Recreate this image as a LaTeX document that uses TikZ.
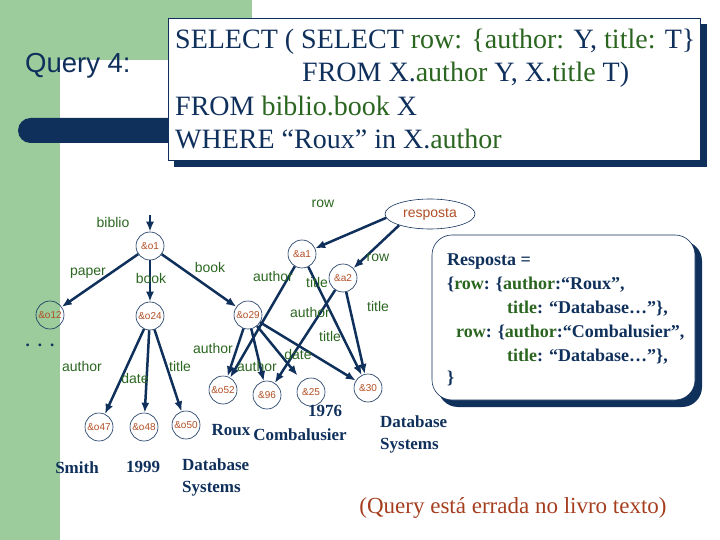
\documentclass[tikz,border=0pt]{standalone}
\usepackage{fontspec}
\setmainfont{Liberation Serif}
\setsansfont{Liberation Sans}
\usepackage{tikz}
\usetikzlibrary{shapes.geometric, arrows.meta}
\definecolor{navy}{RGB}{16, 48, 92}
\definecolor{keygreen}{RGB}{43, 102, 32}
\definecolor{oidbrown}{RGB}{176, 78, 36}
\definecolor{slidegreen}{RGB}{156, 204, 156}
\definecolor{notered}{RGB}{165, 62, 30}
\newcommand{\fld}[1]{\textcolor{keygreen}{#1}}

\begin{document}
\begin{tikzpicture}[x=1pt, y=-1pt,
  obj/.style={circle, draw=navy, line width=0.6pt, minimum size=28pt, inner sep=0pt, text=oidbrown, font=\sffamily\fontsize{10}{10}\selectfont},
  lbl/.style={text=keygreen, inner sep=0pt, font=\sffamily\fontsize{14}{14}\selectfont},
  val/.style={text=navy, inner sep=0pt, align=left, font=\bfseries\fontsize{17}{22}\selectfont},
  link/.style={draw=navy, line width=2.5pt, -{Latex[length=10pt,width=8pt]}},
  code/.style={anchor=base west, text=navy, inner sep=0pt, font=\fontsize{28}{28}\selectfont},
  ans/.style={anchor=base west, text=navy, inner sep=0pt, font=\bfseries\fontsize{18}{18}\selectfont}]

\useasboundingbox (0,0) rectangle (720,540);

% Slide background
\fill[slidegreen] (0,0) rectangle (252,60);
\fill[slidegreen] (0,0) rectangle (60,540);
\fill[navy, rounded corners=12.5pt] (18,118) rectangle (400,143);
\node[anchor=base west, text=navy, inner sep=0pt, font=\sffamily\fontsize{27.5}{27.5}\selectfont] (qtitle) at (25,73) {Query 4:};

% Query box
\fill[navy] (174,24) rectangle (707,167);
\draw[navy, fill=white, line width=0.6pt] (168,18) rectangle (700,160);
\node[code] (q1) at (175,49) {SELECT ( SELECT \fld{row: \{author:} Y, \fld{title:} T\}};
\node[code] (q2) at (302,82) {FROM X.\fld{author} Y, X.\fld{title} T)};
\node[code] (q3) at (175,116) {FROM \fld{biblio.book} X};
\node[code] (q4) at (175,149) {WHERE “Roux” in X.\fld{author}};

% Objects
\foreach \name/\oid/\x/\y in {
    o1/\&o1/150/246, o12/\&o12/50/315, o24/\&o24/150/316, o29/\&o29/248/315,
    o47/\&o47/99/427, o48/\&o48/144/427, o50/\&o50/186/425,
    o52/\&o52/223/390, n96/\&96/267/395, n25/\&25/311/392, n30/\&30/368/388,
    a1/\&a1/302/254, a2/\&a2/343/278
} {
    \node[obj] (\name) at (\x,\y) {\oid};
}
\node[ellipse, draw=navy, line width=0.6pt, minimum width=90pt, minimum height=30pt, inner sep=0pt, text=oidbrown, font=\sffamily\fontsize{14}{14}\selectfont] (resp) at (430,214) {resposta};
\coordinate (root) at (150,215);

% Edges
\foreach \a/\b in {root/o1, o1/o12, o1/o24, o1/o29, o24/o47, o24/o48, o24/o50,
    o29/o52, o29/n96, o29/n30, a1/o52, a1/n30, a2/n96, a2/n30} {
    \draw[link] (\a) -- (\b);
}
\draw[link, shorten >=7pt] (o29) -- (n25);
\draw[link] (resp.185) -- (a1);
\draw[link] (resp.200) -- (a2);

% Edge labels
\foreach \txt/\x/\y in {
    biblio/113/222, paper/88/273, book/151/278, book/210/267,
    author/82/366, date/135/378, title/180/366,
    author/213/348, author/257/366, date/298/354, title/330/336,
    author/273/276, title/317/282, author/310/312, title/378/306,
    row/323/204, row/378/258
} {
    \node[lbl] at (\x,\y) {\txt};
}
\node[text=navy, inner sep=0pt, font=\bfseries\fontsize{17}{17}\selectfont] (dots) at (40,345) {.\hspace{8pt}.\hspace{8pt}.};

% Atomic values
\node[val] (smith) at (77,468) {Smith};
\node[val] (y1999) at (143,467) {1999};
\node[val, anchor=west] (dbs1) at (182,477) {Database\\Systems};
\node[val] (roux) at (231,430) {Roux};
\node[val] (comb) at (300,435) {Combalusier};
\node[val] (y1976) at (325,411) {1976};
\node[val, anchor=west] (dbs2) at (380,434) {Database\\Systems};

% Answer box
\fill[navy, rounded corners=20pt] (438,241) rectangle (702,407);
\draw[navy, fill=white, line width=0.6pt, rounded corners=20pt] (432,235) rectangle (695,400);
\node[ans] (r1) at (447,265) {Resposta =};
\node[ans] (r2) at (447,289) {\{\fld{row}: \{\fld{author}:“Roux”,};
\node[ans] (r3) at (507,313) {\fld{title}: “Database…”\},};
\node[ans] (r4) at (456,337) {\fld{row}: \{\fld{author}:“Combalusier”,};
\node[ans] (r5) at (507,361) {\fld{title}: “Database…”\},};
\node[ans] (r6) at (447,383) {\}};

\node[text=notered, inner sep=0pt, font=\fontsize{23}{23}\selectfont] (note) at (513,508) {(Query está errada no livro texto)};
\end{tikzpicture}
\end{document}
